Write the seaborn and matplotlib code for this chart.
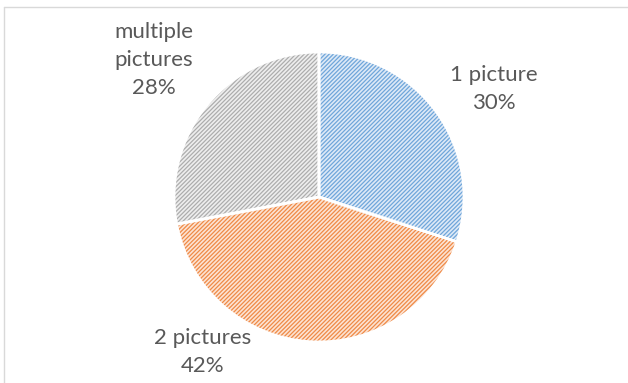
import matplotlib
matplotlib.use("Agg")
import matplotlib.pyplot as plt
import seaborn as sns

categories = ["1 picture", "2 pictures", "multiple\npictures"]
shares = [30, 42, 28]
line_colors = ["#6fa6da", "#ef8a46", "#adadad"]
fill_colors = ["#dde9f7", "#fce3d3", "#eeeeee"]

sns.set_theme(style="white")
plt.rcParams["font.family"] = ["Lato", "DejaVu Sans"]
plt.rcParams["hatch.linewidth"] = 0.9

W, H = 628, 383
fig = plt.figure(figsize=(W / 100, H / 100), dpi=100)
ax = fig.add_axes([0, 0, 1, 1])

center = (319, H - 197)
radius = 145

# hatched wedges: face is the pale tint, hatch uses the edge colour
wedges, _ = ax.pie(shares, startangle=90, counterclock=False,
                   center=center, radius=radius, frame=True,
                   colors=fill_colors,
                   wedgeprops=dict(linewidth=0))
for w, c in zip(wedges, line_colors):
    w.set_edgecolor(c)
    w.set_hatch("////////")
    w.set_linewidth(0)

# white separators between slices
ax.pie(shares, startangle=90, counterclock=False, center=center,
       radius=radius, frame=True, colors=["none"] * 3,
       wedgeprops=dict(edgecolor="white", linewidth=2, fill=False))
ax.set_xlim(0, W)
ax.set_ylim(0, H)
ax.set_aspect("equal")
ax.axis("off")

label_pos = [(494, 89), (203, 352), (154, 60)]
txt_kw = dict(ha="center", va="center", fontsize=16, color="#595959",
              linespacing=1.5)
for cat, val, (x, y) in zip(categories, shares, label_pos):
    ax.text(x, H - y, f"{cat}\n{val}%", **txt_kw)

# chart-area frame
ax.plot([4, 4], [0, H - 7], color="#d9d9d9", lw=1, clip_on=False)
ax.plot([4, W], [H - 7, H - 7], color="#d9d9d9", lw=1, clip_on=False)

fig.savefig("out.png", dpi=100)
